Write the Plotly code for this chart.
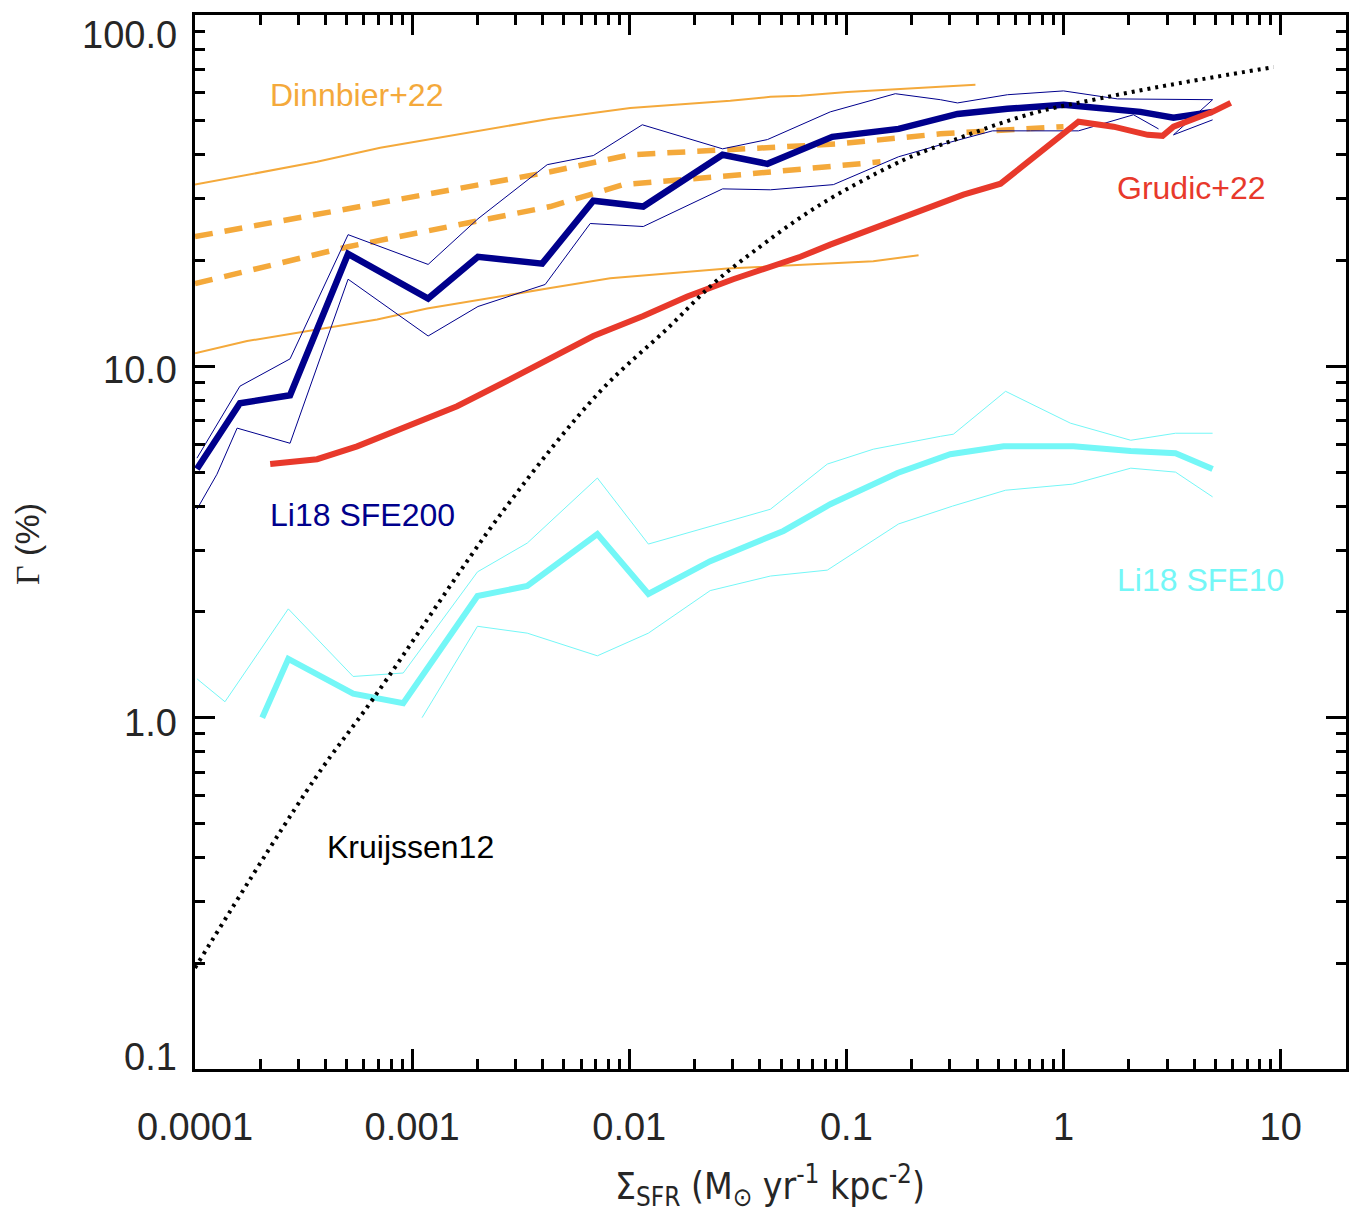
import numpy as np
import plotly.graph_objects as go

# ---- Li18 SFE200 (median and spread) ----
sfe200_x = [1.02e-4, 1.45e-4, 1.61e-4, 2.74e-4, 5.07e-4, 1.185e-3, 2.01e-3, 3.97e-3, 6.83e-3, 0.0116,
            0.0269, 0.0433, 0.0861, 0.174, 0.325, 0.552, 1.0, 2.26, 3.21, 4.86]
sfe200_y = [5.10, 7.21, 7.85, 8.27, 20.9, 15.6, 20.5, 19.6, 29.6, 28.5,
            40.0, 37.7, 45.0, 47.4, 52.3, 54.1, 55.5, 53.0, 51.0, 53.0]
sfe200_hi_x = [1.021e-4, 1.61e-4, 2.74e-4, 5.07e-4, 1.185e-3, 2.01e-3, 4.19e-3, 6.83e-3, 0.01148, 0.0269,
               0.0433, 0.0843, 0.168, 0.271, 0.325, 0.552, 1.0, 1.774, 4.86, 3.21, 4.86]
sfe200_hi_y = [5.48, 8.78, 10.5, 23.7, 19.5, 26.3, 37.5, 39.8, 48.7, 41.6,
               44.2, 53.0, 59.7, 57.4, 56.2, 59.3, 60.8, 57.7, 57.4, 45.6, 50.3]
sfe200_lo_x = [1.021e-4, 1.262e-4, 1.563e-4, 2.74e-4, 5.07e-4, 1.185e-3, 2.01e-3, 4.10e-3, 6.61e-3, 0.0116,
               0.0269, 0.0447, 0.0871, 0.174, 0.271, 0.346, 0.471, 0.705, 1.172, 2.10, 2.74]
sfe200_lo_y = [3.92, 4.93, 6.67, 6.04, 17.7, 12.2, 14.8, 17.1, 25.5, 25.0,
               32.0, 31.8, 32.9, 39.5, 42.7, 44.4, 46.8, 46.8, 46.8, 52.0, 47.4]

# ---- Li18 SFE10 (median and spread) ----
sfe10_x = [2.04e-4, 2.69e-4, 5.35e-4, 9.10e-4, 2.00e-3, 3.39e-3, 7.13e-3, 0.01225, 0.0236, 0.0513,
           0.0843, 0.172, 0.301, 0.530, 1.111, 2.04, 3.28, 4.86]
sfe10_y = [1.00, 1.47, 1.17, 1.10, 2.22, 2.37, 3.33, 2.25, 2.79, 3.40,
           4.05, 4.97, 5.62, 5.92, 5.92, 5.74, 5.66, 5.10]
sfe10_hi_x = [1.021e-4, 1.374e-4, 2.69e-4, 5.35e-4, 9.10e-4, 2.00e-3, 3.39e-3, 7.13e-3, 0.01225, 0.0447,
              0.0817, 0.133, 0.271, 0.311, 0.541, 1.076, 2.04, 3.28, 4.86]
sfe10_hi_y = [1.29, 1.11, 2.04, 1.31, 1.34, 2.60, 3.14, 4.81, 3.12, 3.92,
              5.27, 5.81, 6.32, 6.41, 8.49, 6.89, 6.16, 6.45, 6.45]
sfe10_lo_x = [1.111e-3, 2.00e-3, 3.39e-3, 7.13e-3, 0.01225, 0.0236, 0.0447, 0.0817, 0.174, 0.308,
              0.541, 1.10, 2.04, 3.28, 4.86]
sfe10_lo_y = [1.00, 1.82, 1.74, 1.50, 1.74, 2.30, 2.53, 2.63, 3.56, 4.00,
              4.44, 4.62, 5.13, 5.00, 4.25]

# ---- Grudic+22 ----
grudic_x = [2.22e-4, 3.65e-4, 5.58e-4, 9.10e-4, 1.211e-3, 1.611e-3, 2.55e-3, 4.33e-3, 6.83e-3, 0.0116,
            0.0185, 0.0301, 0.0433, 0.0614, 0.0843, 0.133, 0.271, 0.346, 0.513, 0.783,
            1.172, 1.70, 2.44, 2.86, 3.21, 4.86, 5.89]
grudic_y = [5.27, 5.44, 5.92, 6.67, 7.21, 7.70, 8.89, 10.5, 12.2, 13.9,
            15.8, 17.7, 19.0, 20.5, 22.2, 24.7, 29.0, 30.8, 33.1, 40.8,
            49.7, 48.1, 45.6, 45.3, 48.1, 53.0, 56.2]

# ---- Dinnbier+22 (solid envelope and dashed models) ----
din_hi_x = [1e-4, 3.65e-4, 7.13e-4, 4.33e-3, 0.0101, 0.0292, 0.0447, 0.0614, 0.101, 0.271, 0.393]
din_hi_y = [32.9, 38.2, 41.9, 50.7, 54.4, 57.0, 58.5, 58.9, 60.4, 62.4, 63.3]
din_lo_x = [1e-4, 1.738e-4, 6.90e-4, 1.172e-3, 4.33e-3, 8.17e-3, 0.0283, 0.133, 0.215]
din_lo_y = [10.9, 11.8, 13.6, 14.6, 16.7, 17.8, 19.0, 19.9, 20.7]
din_dash_hi_x = [1e-4, 4.33e-3, 0.0101, 0.0325, 0.0938, 0.271, 0.497, 1.0]
din_dash_hi_y = [23.4, 35.8, 40.0, 41.4, 43.0, 45.9, 47.1, 48.1]
din_dash_lo_x = [1e-4, 5.07e-4, 4.33e-3, 9.38e-3, 0.0325, 0.0871, 0.1435]
din_dash_lo_y = [17.2, 21.9, 28.5, 32.9, 35.1, 37.0, 38.2]

# ---- Kruijssen12 model ----
k12_x = [1e-4, 3.57e-4, 6.6e-4, 2.62e-3, 7.35e-3, 0.01496, 0.0244, 0.0373, 0.0734, 0.165,
         0.244, 0.705, 1.435, 3.11, 9.29]
k12_y = [0.194, 0.671, 1.13, 3.87, 8.49, 12.8, 17.2, 21.2, 28.5, 37.5,
         41.6, 52.3, 57.7, 63.3, 71.1]

# ---- axis ticks ----
x_major = [1e-4, 1e-3, 1e-2, 1e-1, 1, 10]
x_labels = ["0.0001", "0.001", "0.01", "0.1", "1", "10"]
y_major = [0.1, 1, 10, 100]
y_labels = ["0.1", "1.0", "10.0", "100.0"]

NAVY = "#00008C"
CYAN = "#74F7F7"
RED = "#E8392B"
ORANGE = "#F4A93B"
TICKCOL = "#262626"
SANS = "Liberation Sans, Arial, Helvetica, sans-serif"

fig = go.Figure()


def add_line(x, y, color, width, dash="solid", shape="linear"):
    fig.add_trace(go.Scatter(x=x, y=y, mode="lines",
                             line=dict(color=color, width=width, dash=dash, shape=shape),
                             hoverinfo="skip", showlegend=False))


# Dinnbier+22
add_line(din_hi_x, din_hi_y, ORANGE, 2)
add_line(din_lo_x, din_lo_y, ORANGE, 2)
add_line(din_dash_hi_x, din_dash_hi_y, ORANGE, 5.5, dash="18px,12px")
add_line(din_dash_lo_x, din_dash_lo_y, ORANGE, 5.5, dash="18px,12px")

# Li18 SFE200
add_line(sfe200_hi_x, sfe200_hi_y, NAVY, 1)
add_line(sfe200_lo_x, sfe200_lo_y, NAVY, 1)
add_line(sfe200_x, sfe200_y, NAVY, 6.5)

# Li18 SFE10
add_line(sfe10_hi_x, sfe10_hi_y, CYAN, 1)
add_line(sfe10_lo_x, sfe10_lo_y, CYAN, 1)
add_line(sfe10_x, sfe10_y, CYAN, 6)

# Grudic+22
add_line(grudic_x, grudic_y, RED, 6)

# Kruijssen12
add_line(k12_x, k12_y, "black", 4, dash="3px,5px", shape="spline")


def minor_vals(lo_exp, hi_exp):
    vals = []
    for e in range(lo_exp, hi_exp + 1):
        for m in range(2, 10):
            vals.append(m * 10.0 ** e)
    return vals


axis_common = dict(
    type="log", showline=True, linewidth=3, linecolor="black", mirror="ticks",
    ticks="inside", ticklen=20, tickwidth=3, tickcolor="black",
    showgrid=False, zeroline=False,
)

fig.update_xaxes(
    **axis_common,
    range=[-4, np.log10(20)],
    tickvals=x_major, ticktext=x_labels,
    tickfont=dict(family=SANS, size=38, color=TICKCOL),
    ticklabelstandoff=22,
    minor=dict(tickvals=minor_vals(-4, 1), ticks="inside", ticklen=10, tickwidth=2.5,
               tickcolor="black", showgrid=False),
)
fig.update_yaxes(
    **axis_common,
    range=[-1, 2],
    tickvals=y_major, showticklabels=False,
    minor=dict(tickvals=minor_vals(-1, 1), ticks="inside", ticklen=10, tickwidth=2.5,
               tickcolor="black", showgrid=False),
)

annotations = []

# y tick labels
y_shifts = [12, -5, -4, -20]
for v, lab, ys in zip(y_major, y_labels, y_shifts):
    annotations.append(dict(text=lab, xref="paper", yref="y", x=0, y=np.log10(v),
                            xanchor="right", yanchor="middle", xshift=-16, yshift=ys,
                            showarrow=False, font=dict(family=SANS, size=38, color=TICKCOL)))

# series labels (positions in plot-area fractions)
W, H = 1151.0, 1056.0


def px(xp):
    return (xp - 195) / W


def py(yp):
    return (1069 - yp) / H


labels = [
    ("Dinnbier+22", 268, 93, ORANGE),
    ("Grudic+22", 1115, 186, RED),
    ("Li18 SFE200", 268, 514, NAVY),
    ("Li18 SFE10", 1115, 579, CYAN),
    ("Kruijssen12", 325, 847, "black"),
]
for txt, xl, yc, col in labels:
    annotations.append(dict(text=txt, xref="paper", yref="paper", x=px(xl), y=py(yc),
                            xanchor="left", yanchor="middle", showarrow=False,
                            font=dict(family=SANS, size=32, color=col)))

# axis titles
annotations.append(dict(
    text="Σ<sub>SFR</sub> (M<sub>⊙</sub> yr<sup>-1</sup> kpc<sup>-2</sup>)",
    xref="paper", yref="paper", x=px(770), y=py(1186), xanchor="center", yanchor="middle",
    showarrow=False,
    font=dict(family="Liberation Sans Narrow, DejaVu Sans Condensed, Liberation Sans, sans-serif",
              size=37, color=TICKCOL)))
annotations.append(dict(
    text="<span style='font-family:Liberation Serif, DejaVu Serif, serif'>Γ</span> (%)",
    xref="paper", yref="paper", x=px(27), y=py(543), xanchor="center", yanchor="middle",
    textangle=-90, showarrow=False,
    font=dict(family=SANS, size=34, color=TICKCOL)))

fig.update_layout(
    width=1361, height=1219,
    margin=dict(l=195, r=15, t=13, b=150),
    plot_bgcolor="white", paper_bgcolor="white",
    showlegend=False,
    annotations=annotations,
)

fig.write_html("out.html")
